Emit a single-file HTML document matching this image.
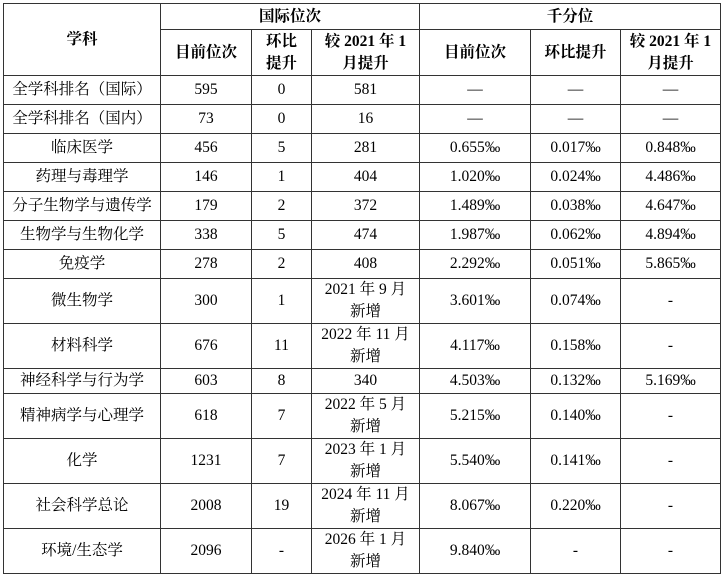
<!DOCTYPE html>
<html><head><meta charset="utf-8"><style>
body{margin:0;background:#fff;}
table{position:absolute;left:3px;top:3px;border-collapse:collapse;table-layout:fixed;font-family:"Liberation Serif","Noto Serif CJK SC",serif;font-size:15.5px;color:#000;}
td{border:1px solid #333;text-align:center;vertical-align:middle;padding:0;line-height:22px;white-space:nowrap;overflow:hidden;}
tr.h td{font-weight:bold;}
</style></head><body>
<table>
<colgroup><col style="width:157px"><col style="width:91px"><col style="width:60px"><col style="width:108px"><col style="width:111px"><col style="width:90px"><col style="width:100px"></colgroup>
<tr class="h" style="height:26px"><td rowspan="2">学科</td><td colspan="3">国际位次</td><td colspan="3">千分位</td></tr>
<tr class="h" style="height:46px"><td>目前位次</td><td>环比<br>提升</td><td>较 2021 年 1<br>月提升</td><td>目前位次</td><td>环比提升</td><td>较 2021 年 1<br>月提升</td></tr>
<tr style="height:29px"><td>全学科排名（国际）</td><td>595</td><td>0</td><td>581</td><td>—</td><td>—</td><td>—</td></tr>
<tr style="height:29px"><td>全学科排名（国内）</td><td>73</td><td>0</td><td>16</td><td>—</td><td>—</td><td>—</td></tr>
<tr style="height:29px"><td>临床医学</td><td>456</td><td>5</td><td>281</td><td>0.655‰</td><td>0.017‰</td><td>0.848‰</td></tr>
<tr style="height:29px"><td>药理与毒理学</td><td>146</td><td>1</td><td>404</td><td>1.020‰</td><td>0.024‰</td><td>4.486‰</td></tr>
<tr style="height:29px"><td>分子生物学与遗传学</td><td>179</td><td>2</td><td>372</td><td>1.489‰</td><td>0.038‰</td><td>4.647‰</td></tr>
<tr style="height:29px"><td>生物学与生物化学</td><td>338</td><td>5</td><td>474</td><td>1.987‰</td><td>0.062‰</td><td>4.894‰</td></tr>
<tr style="height:29px"><td>免疫学</td><td>278</td><td>2</td><td>408</td><td>2.292‰</td><td>0.051‰</td><td>5.865‰</td></tr>
<tr style="height:45px"><td>微生物学</td><td>300</td><td>1</td><td>2021 年 9 月<br>新增</td><td>3.601‰</td><td>0.074‰</td><td>-</td></tr>
<tr style="height:45px"><td>材料科学</td><td>676</td><td>11</td><td>2022 年 11 月<br>新增</td><td>4.117‰</td><td>0.158‰</td><td>-</td></tr>
<tr style="height:25px"><td>神经科学与行为学</td><td>603</td><td>8</td><td>340</td><td>4.503‰</td><td>0.132‰</td><td>5.169‰</td></tr>
<tr style="height:45px"><td>精神病学与心理学</td><td>618</td><td>7</td><td>2022 年 5 月<br>新增</td><td>5.215‰</td><td>0.140‰</td><td>-</td></tr>
<tr style="height:45px"><td>化学</td><td>1231</td><td>7</td><td>2023 年 1 月<br>新增</td><td>5.540‰</td><td>0.141‰</td><td>-</td></tr>
<tr style="height:45px"><td>社会科学总论</td><td>2008</td><td>19</td><td>2024 年 11 月<br>新增</td><td>8.067‰</td><td>0.220‰</td><td>-</td></tr>
<tr style="height:45px"><td>环境/生态学</td><td>2096</td><td>-</td><td>2026 年 1 月<br>新增</td><td>9.840‰</td><td>-</td><td>-</td></tr>
</table>
</body></html>
